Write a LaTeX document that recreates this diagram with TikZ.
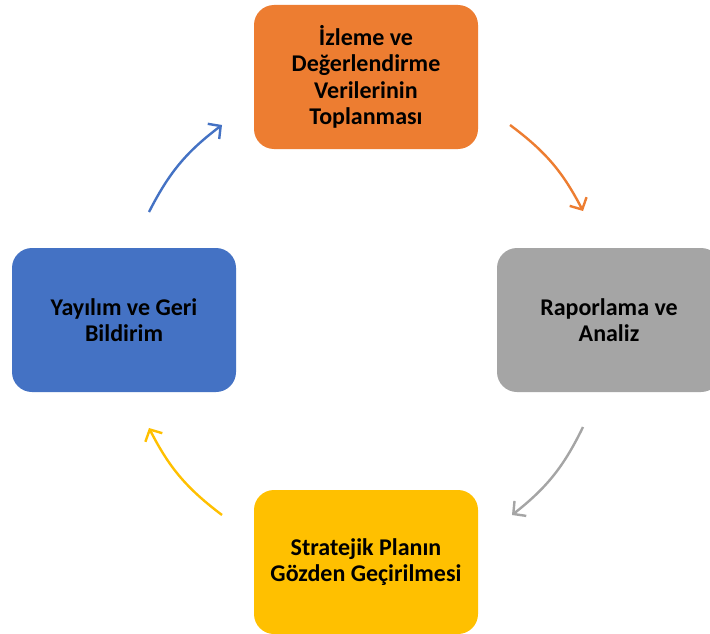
\documentclass[tikz,border=0pt]{standalone}
\usepackage{fontspec}
\setmainfont{Carlito}
\usetikzlibrary{arrows.meta}
\definecolor{cOrange}{HTML}{ED7D31}
\definecolor{cGray}{HTML}{A5A5A5}
\definecolor{cBlue}{HTML}{4472C4}
\definecolor{cYellow}{HTML}{FFC000}
\tikzset{
  stagebox/.style={rounded corners=20pt, minimum width=224pt, minimum height=144pt,
    inner sep=0pt, align=center, text=black,
    font=\fontsize{24pt}{26.5pt}\selectfont\bfseries},
  cyclearrow/.style={line width=2.4pt, bend left=13,
    -{Straight Barb[length=9pt,width=19pt,line width=2.4pt]}}
}
\begin{document}
\begin{tikzpicture}[x=1pt,y=-1pt]
\clip (0,0) rectangle (710,634);
\fill[white] (0,0) rectangle (710,634);
\node[stagebox, fill=cOrange] (top) at (366,77) {İzleme ve\\Değerlendirme\\Verilerinin\\Toplanması};
\node[stagebox, fill=cGray] (right) at (609,320) {Raporlama ve\\Analiz};
\node[stagebox, fill=cYellow] (bottom) at (366,562) {Stratejik Planın\\Gözden Geçirilmesi};
\node[stagebox, fill=cBlue] (left) at (124,320) {Yayılım ve Geri\\Bildirim};
\coordinate (o1) at (510,125);
\coordinate (o2) at (583,211);
\coordinate (g1) at (583,427);
\coordinate (g2) at (512,515);
\coordinate (y1) at (222,515);
\coordinate (y2) at (149,428);
\coordinate (b1) at (149,212);
\coordinate (b2) at (222,125);
\draw[cyclearrow, draw=cOrange] (o1) to (o2);
\draw[cyclearrow, draw=cGray] (g1) to (g2);
\draw[cyclearrow, draw=cYellow] (y1) to (y2);
\draw[cyclearrow, draw=cBlue] (b1) to (b2);
\end{tikzpicture}
\end{document}
